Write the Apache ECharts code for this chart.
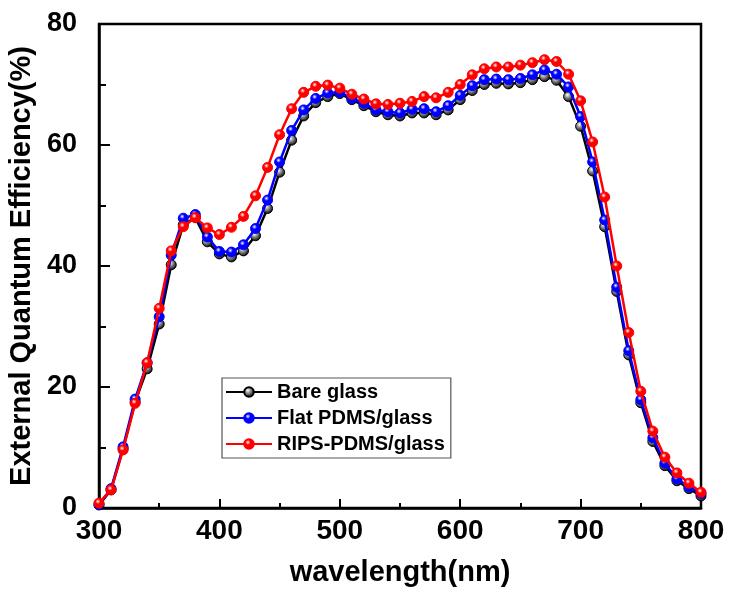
<!DOCTYPE html>
<html>
<head>
<meta charset="utf-8">
<script src="https://cdn.jsdelivr.net/npm/echarts@6/dist/echarts.min.js"></script>
<style>html,body{margin:0;padding:0;background:#fff;}#c{width:729px;height:592px;}</style>
</head>
<body>
<div id="c"></div>
<script>
const wavelengths = [300,310,320,330,340,350,360,370,380,390,400,410,420,430,440,450,460,470,480,490,500,510,520,530,540,550,560,570,580,590,600,610,620,630,640,650,660,670,680,690,700,710,720,730,740,750,760,770,780,790,800];
const bareGlass = [0.5,3,9.8,17.5,23,30.4,40.2,46.8,48,44,42,41.5,42.5,45,49.5,55.5,60.8,64.8,67,68,68.5,67.5,66.5,65.5,65,64.8,65.3,65.3,65,65.8,67.5,69,70,70.2,70.1,70.3,70.8,71.3,70.7,68,63.1,55.7,46.5,35.8,25.3,17.4,11,7,4.5,3.2,2];
const flatPDMS = [0.6,3.2,10.1,18,24,31.6,41.8,47.9,48.5,44.8,42.4,42.3,43.5,46.2,50.9,57.2,62.4,65.8,67.7,68.6,68.7,67.7,66.9,65.8,65.5,65.3,65.9,66,65.5,66.5,68.2,69.8,70.8,70.9,70.8,71,71.6,72.4,71.7,69.6,64.7,57.2,47.6,36.5,26,17.9,11.6,7.4,4.8,3.5,2.4];
const ripsPDMS = [0.8,3,9.6,17.3,24,33,42.5,46.5,48,46.3,45.2,46.4,48.2,51.6,56.3,61.7,66,68.7,69.7,69.9,69.4,68.4,67.6,66.8,66.7,66.9,67.2,68,67.8,68.7,70,71.6,72.6,72.9,72.9,73.2,73.6,74.1,73.8,71.7,67.3,60.5,51.4,40,29,19.3,12.7,8.4,5.8,4.1,2.6];
const seriesNames = ['Bare glass','Flat PDMS/glass','RIPS-PDMS/glass'];
const seriesColors = ['#000000','#0000ff','#ff0000'];
const seriesData = [bareGlass, flatPDMS, ripsPDMS];
const xTicks = [300,400,500,600,700,800];
const yTicks = [0,20,40,60,80];

const FONT = '"Liberation Sans", Arial, sans-serif';
const chart = echarts.init(document.getElementById('c'));

function sphere(c){
  return {type:'radial', x:0.4, y:0.35, r:0.65, colorStops:[{offset:0,color:'#ffffff'},{offset:0.35,color:c==='#000000'?'#999':c},{offset:1,color:c}]};
}

const series = seriesNames.map((n,i)=>({
  name:n, type:'line', z: 2+i,
  data: wavelengths.map((w,j)=>[w, seriesData[i][j]]),
  symbol:'circle', symbolSize:10,
  lineStyle:{color:seriesColors[i], width:2.5},
  itemStyle:{color:sphere(seriesColors[i]), borderColor:seriesColors[i], borderWidth:1},
  emphasis:{disabled:true},
  animation:false
}));

chart.setOption({
  backgroundColor:'#fff',
  animation:false,
  grid:{left:99, right:28, top:24, bottom:84, show:true, borderColor:'#000', borderWidth:2.5, backgroundColor:'transparent', containLabel:false, outerBoundsMode:'none'},
  legend:{
    orient:'vertical', left:222, top:378,
    data:seriesNames,
    itemWidth:46, itemHeight:12, itemGap:6,
    padding:[4,6,4,3],
    borderColor:'#555', borderWidth:1.2,
    textStyle:{fontFamily:FONT, fontWeight:'bold', fontSize:20, color:'#000'}
  },
  xAxis:{
    type:'value', min:300, max:800, interval:100,
    name:'wavelength(nm)', nameLocation:'middle', nameGap:50,
    nameTextStyle:{fontFamily:FONT, fontWeight:'bold', fontSize:29, color:'#000'},
    axisLine:{show:true, onZero:false, lineStyle:{color:'#000', width:2.5}},
    axisTick:{show:true, inside:true, length:9, lineStyle:{color:'#000', width:2}},
    minorTick:{show:true, splitNumber:2, length:5, lineStyle:{color:'#000', width:2}},
    splitLine:{show:false},
    axisLabel:{fontFamily:FONT, fontWeight:'bold', fontSize:28, color:'#000', margin:9,
      formatter:v=> xTicks.includes(v)? String(v):''}
  },
  yAxis:{
    type:'value', min:0, max:80, interval:20,
    name:'External Quantum Efficiency(%)', nameLocation:'middle', nameGap:55,
    nameTextStyle:{fontFamily:FONT, fontWeight:'bold', fontSize:29, color:'#000'},
    axisLine:{show:true, lineStyle:{color:'#000', width:2.5}},
    axisTick:{show:true, inside:true, length:11, lineStyle:{color:'#000', width:2}},
    minorTick:{show:true, splitNumber:2, length:7, lineStyle:{color:'#000', width:2}},
    splitLine:{show:false},
    axisLabel:{fontFamily:FONT, fontWeight:'bold', fontSize:27, color:'#000', margin:22,
      formatter:v=> yTicks.includes(v)? String(v):''}
  },
  series:series
});
</script>
</body>
</html>
